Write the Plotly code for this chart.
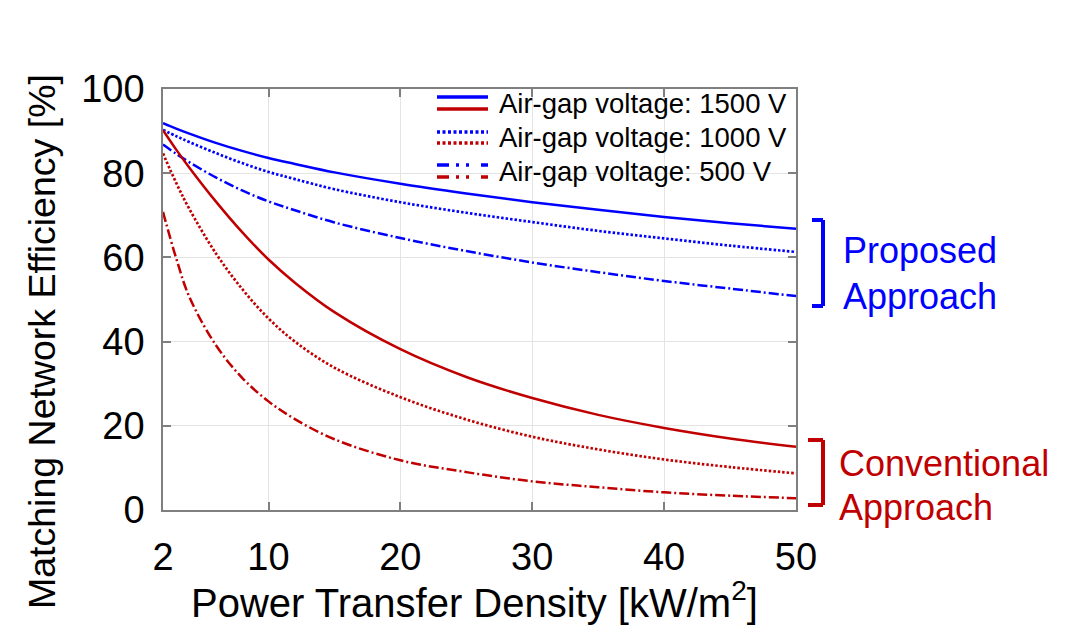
import plotly.graph_objects as go

# ---- data ----
density = [2, 3, 4, 6, 8, 10, 12, 15, 20, 25, 30, 35, 40, 45, 50]

proposed_1500 = [91.9, 90.6, 89.4, 87.2, 85.3, 83.6, 82.2, 80.2, 77.5, 75.2, 73.1, 71.3, 69.6, 68.1, 66.8]
proposed_1000 = [90.3, 88.8, 87.4, 84.8, 82.4, 80.3, 78.6, 76.2, 73.1, 70.6, 68.4, 66.3, 64.5, 62.8, 61.3]
proposed_500 = [86.8, 84.6, 82.6, 79.0, 75.9, 73.3, 71.2, 68.3, 64.6, 61.5, 58.8, 56.5, 54.4, 52.6, 50.8]

conventional_1500 = [90.2, 85.6, 81.3, 73.3, 66.0, 59.5, 54.0, 47.0, 38.2, 31.6, 26.6, 22.6, 19.5, 17.0, 15.0]
conventional_1000 = [84.7, 77.7, 71.5, 61.0, 52.5, 45.5, 40.0, 33.8, 26.8, 21.5, 17.4, 14.4, 12.0, 10.2, 8.7]
conventional_500 = [70.8, 59.8, 50.6, 39.2, 31.4, 25.8, 21.6, 16.8, 11.8, 9.0, 6.8, 5.4, 4.2, 3.4, 2.8]

legend_labels = ["Air-gap voltage: 1500 V", "Air-gap voltage: 1000 V", "Air-gap voltage: 500 V"]
x_ticks = [2, 10, 20, 30, 40, 50]
y_ticks = [0, 20, 40, 60, 80, 100]

BLUE = "#0000FF"
RED = "#C00000"
FONT = "Liberation Sans, Arial, sans-serif"
DOT = "2.5px,2px"
DASHDOT = "10px,3px,2px,3px"

OFF = 8  # page body margin offset
W, H = 1069 - OFF, 627 - OFF
L, R, T, B = 163 - OFF, 796 - OFF, 89 - OFF, 510 - OFF


def px(x):
    return (x - OFF - L) / (R - L)


def py(y):
    return (B - (y - OFF)) / (B - T)


fig = go.Figure()
series = [
    (proposed_1500, BLUE, "solid", 2.5),
    (proposed_1000, BLUE, DOT, 2.7),
    (proposed_500, BLUE, DASHDOT, 2.5),
    (conventional_1500, RED, "solid", 2.5),
    (conventional_1000, RED, DOT, 2.7),
    (conventional_500, RED, DASHDOT, 2.5),
]
for vals, col, dash, wd in series:
    fig.add_trace(go.Scatter(x=density, y=vals, mode="lines", line_shape="spline",
                             line=dict(color=col, width=wd, dash=dash), showlegend=False))

shapes = []
annotations = []

# legend (drawn manually: two line samples per entry)
rows = [(97, 109, 103, "solid"), (132, 143, 137, "3px,2.5px"), (165, 177, 171, "12px,7px,3px,7px,3px")]
for (yb, yr, yt, dash), lab in zip(rows, legend_labels):
    for yy, col in ((yb, BLUE), (yr, RED)):
        shapes.append(dict(type="line", xref="paper", yref="paper",
                           x0=px(437), x1=px(488), y0=py(yy), y1=py(yy),
                           line=dict(color=col, width=3.5, dash=dash)))
    annotations.append(dict(xref="paper", yref="paper", x=px(497), y=py(yt),
                            text=lab, showarrow=False, xanchor="left", yanchor="middle",
                            font=dict(family=FONT, size=27.5, color="black")))


# brackets
def bracket(x_left, x_right, y_top, y_bot, col):
    for (a, b, c, d) in ((x_right, y_top, x_right, y_bot),
                         (x_left, y_top, x_right, y_top),
                         (x_left, y_bot, x_right, y_bot)):
        shapes.append(dict(type="line", xref="paper", yref="paper",
                           x0=px(a), y0=py(b), x1=px(c), y1=py(d),
                           line=dict(color=col, width=4)))


bracket(812, 823, 220, 306, BLUE)
bracket(808, 823, 440, 505, RED)

for txt, x, y, col in (("Proposed", 841, 251, BLUE), ("Approach", 841, 296, BLUE),
                       ("Conventional", 837, 463, RED), ("Approach", 837, 507, RED)):
    annotations.append(dict(xref="paper", yref="paper", x=px(x), y=py(y), text=txt,
                            showarrow=False, xanchor="left", yanchor="middle",
                            font=dict(family=FONT, size=36, color=col)))

# axis titles
annotations.append(dict(xref="paper", yref="paper", x=px(474), y=py(600),
                        text="Power Transfer Density [kW/m<sup>2</sup>]", showarrow=False,
                        xanchor="center", yanchor="middle",
                        font=dict(family=FONT, size=40, color="black")))
annotations.append(dict(xref="paper", yref="paper", x=px(42), y=py(342),
                        text="Matching Network Efficiency [%]", showarrow=False, textangle=-90,
                        xanchor="center", yanchor="middle",
                        font=dict(family=FONT, size=37.5, color="black")))

axis_common = dict(showline=True, linecolor="#7f7f7f", linewidth=1.5, mirror="ticks",
                   ticks="inside", ticklen=8, tickcolor="#7f7f7f", tickwidth=1.5,
                   showgrid=True, gridcolor="#e4e4e4", gridwidth=1, zeroline=False,
                   tickfont=dict(family=FONT, size=38, color="black"))

fig.update_layout(
    width=W, height=H,
    margin=dict(l=L, r=W - R, t=T, b=H - B),
    paper_bgcolor="white", plot_bgcolor="white",
    xaxis=dict(range=[2, 50], tickvals=x_ticks, ticklabelstandoff=13, **axis_common),
    yaxis=dict(range=[0, 100], tickvals=y_ticks, ticklabelstandoff=9, **axis_common),
    shapes=shapes, annotations=annotations,
)

fig.write_html("out.html")
